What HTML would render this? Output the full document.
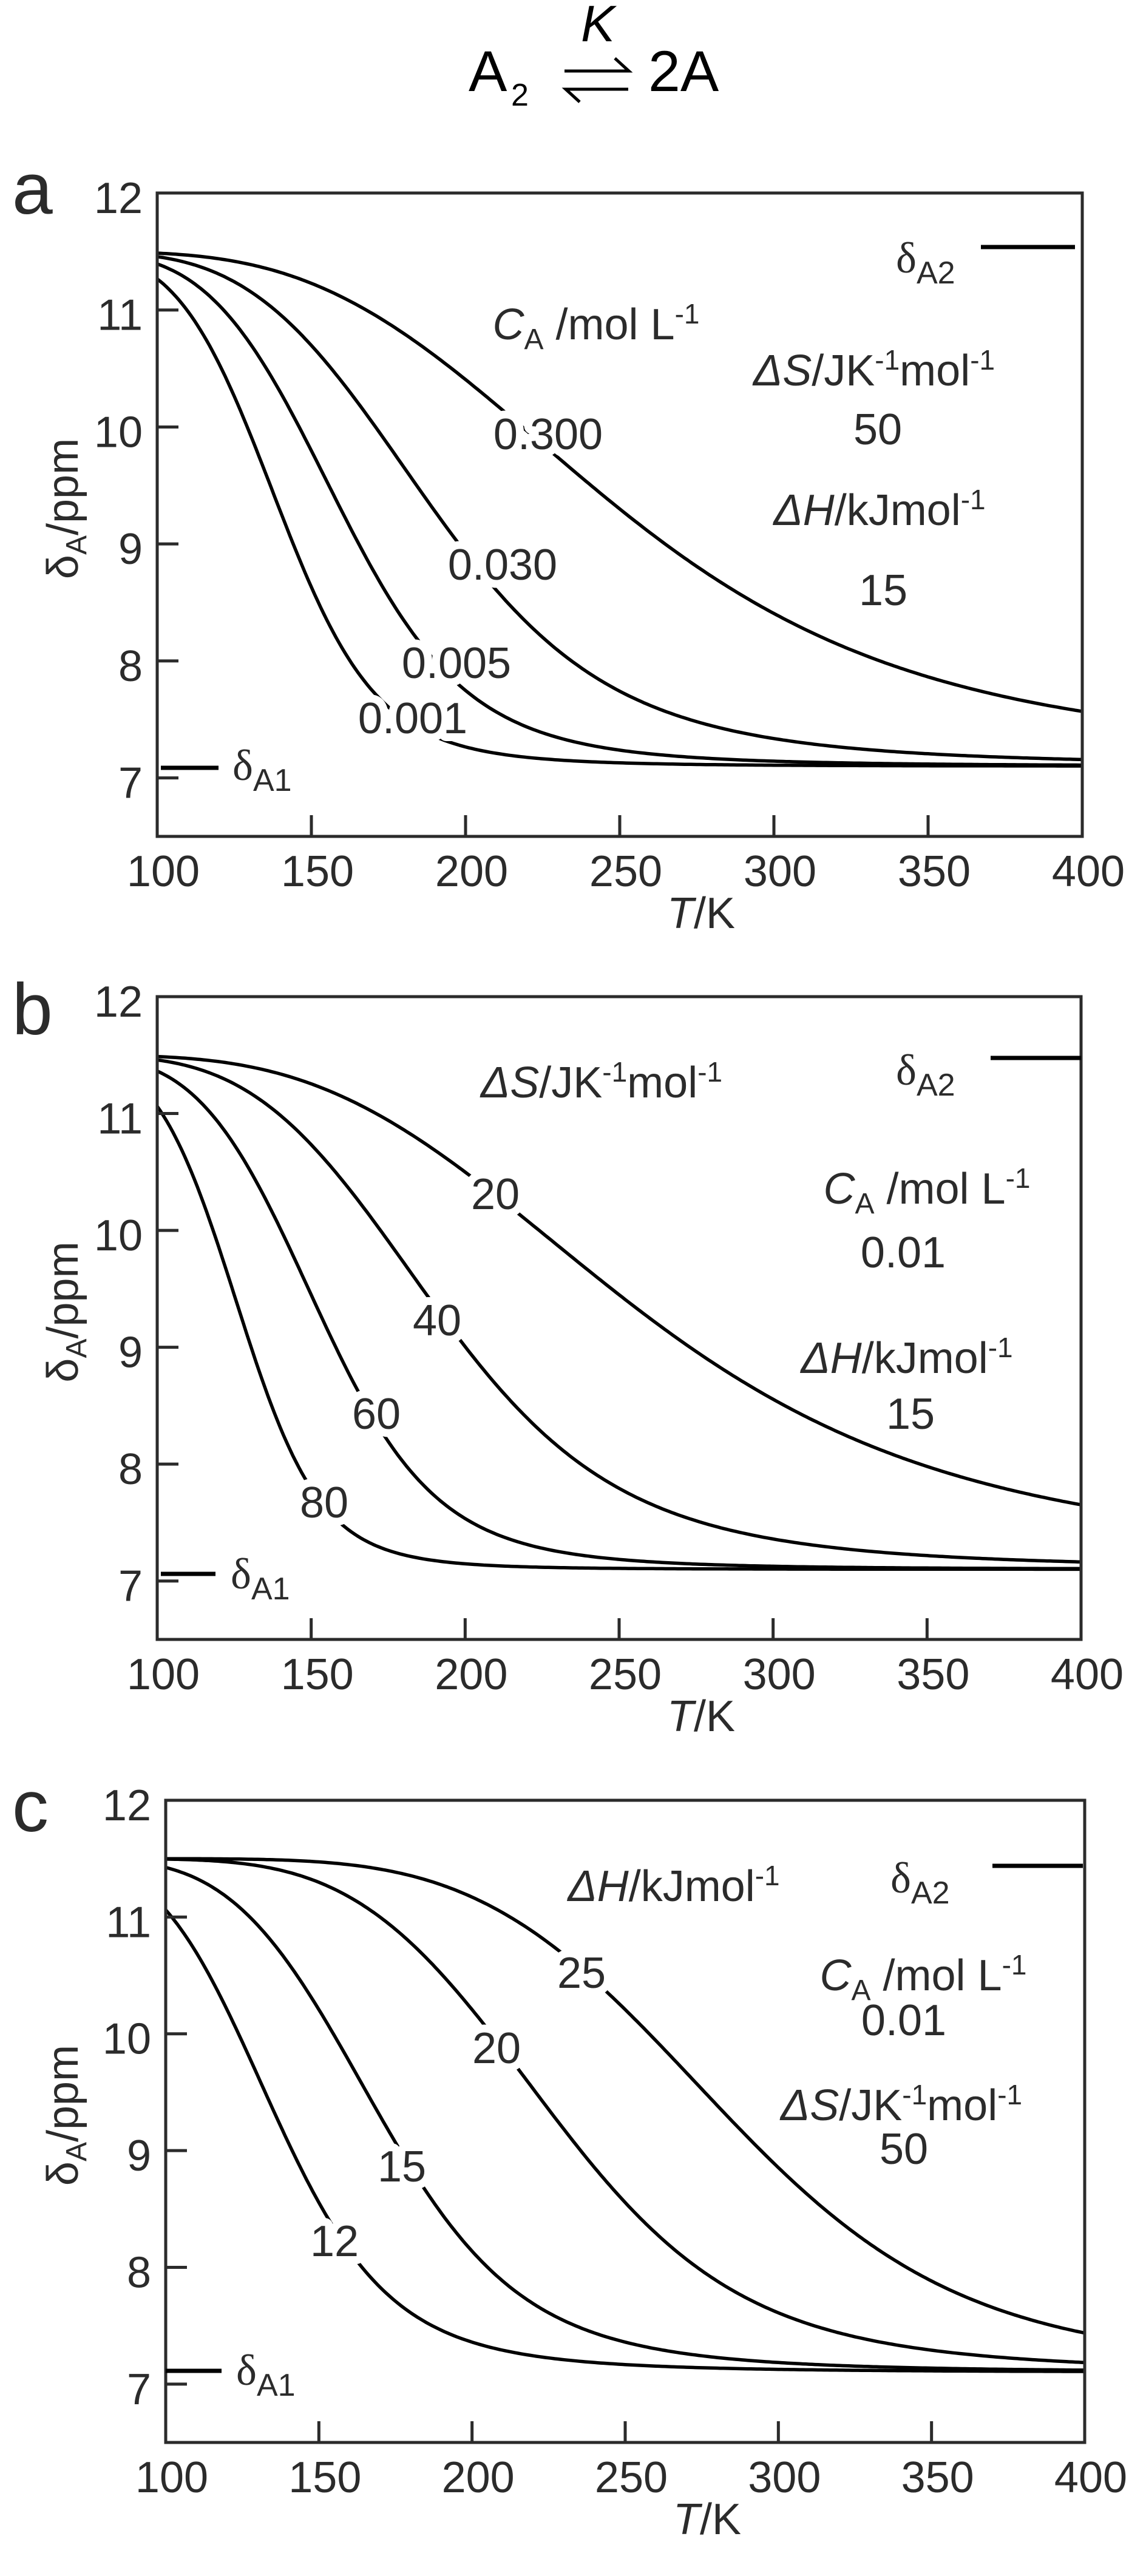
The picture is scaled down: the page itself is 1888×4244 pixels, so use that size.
<!DOCTYPE html>
<html><head><meta charset="utf-8"><style>
html,body{margin:0;padding:0;background:#fff;}
svg{display:block;}
text{font-family:"Liberation Sans",Arial,sans-serif;fill:#2b2b2b;}
.t{font-size:72px;}
.lab{font-size:72px;stroke:#fff;stroke-width:26px;paint-order:stroke;stroke-linejoin:round;}
</style></head><body>
<svg id="s" xmlns="http://www.w3.org/2000/svg" width="1888" height="4244" viewBox="0 0 1888 4244">
<rect width="1888" height="4244" fill="#fff"/>
<!-- title -->
<text x="985" y="68" text-anchor="middle" font-style="italic" style="font-size:84px;fill:#000">K</text>
<text x="772" y="150" style="font-size:95px;fill:#000">A</text>
<text x="842" y="174" style="font-size:52px;fill:#000">2</text>
<text x="1068" y="150" style="font-size:95px;fill:#000">2A</text>
<g stroke="#000" stroke-width="5" fill="none">
<path d="M930 117 H1036 L1013 96"/>
<path d="M1035 147 H932 L955 168"/>
</g>
<g id="panels"></g>
</svg>
<script>
(function(){
var NS="http://www.w3.org/2000/svg";
var root=document.getElementById("panels");
function el(tag,attrs,txt){var e=document.createElementNS(NS,tag);for(var k in attrs)e.setAttribute(k,attrs[k]);if(txt!==undefined)e.textContent=txt;root.appendChild(e);return e;}
function html(s){var g=document.createElementNS(NS,"g");g.innerHTML=s;root.appendChild(g);}
var R=8.314,dA1=7.1,dA2=11.5;
function delta(T,C,dH,dS){var K=Math.exp(-dH*1000/(R*T)+dS/R);var a=2*C;var al=(-K+Math.sqrt(K*K+4*a*K))/(2*a);return al*dA1+(1-al)*dA2;}
function panel(p){
 var L=p.L,Rr=p.R,top=p.top,bot=p.bot,u=(bot-top)/5.5,y7=bot-0.5*u;
 function X(T){return L+(T-100)/300*(Rr-L);}
 function Y(d){return y7-(d-7)*u;}
 p.curves.forEach(function(c){var d="";for(var T=100;T<=400;T+=1){d+=(T==100?"M":"L")+X(T).toFixed(1)+" "+Y(delta(T,c[0],c[1],c[2])).toFixed(1);}
  el("path",{d:d,fill:"none",stroke:"#000","stroke-width":"5.5","stroke-linejoin":"round"});});
 el("rect",{x:L,y:top,width:Rr-L,height:bot-top,fill:"none",stroke:"#2b2b2b","stroke-width":"5"});
 for(var T=150;T<400;T+=50)el("line",{x1:X(T),x2:X(T),y1:bot,y2:bot-35,stroke:"#2b2b2b","stroke-width":"5"});
 for(var v=7;v<=11;v++)el("line",{x1:L,x2:L+35,y1:Y(v),y2:Y(v),stroke:"#2b2b2b","stroke-width":"5"});
 for(var T=100;T<=400;T+=50)el("text",{"class":"t",x:X(T)+10,y:bot+82,"text-anchor":"middle"},String(T));
 for(var v=7;v<=12;v++)el("text",{"class":"t",x:L-24,y:Y(v)+33,"text-anchor":"end"},String(v));
 html('<text class="t" x="'+p.tk+'" y="'+(bot+151)+'" text-anchor="middle"><tspan font-style="italic">T</tspan>/K</text>');
 var cy=(top+bot)/2-10;
 html('<text class="t" transform="translate(128,'+cy+') rotate(-90)" text-anchor="middle">δ<tspan dy="14" style="font-size:48px">A</tspan><tspan dy="-14">/ppm</tspan></text>');
 el("text",{x:20,y:p.lettery,style:"font-size:120px"},p.letter);
 el("line",{x1:p.a2[0],x2:p.a2[1],y1:p.a2[2],y2:p.a2[2],stroke:"#000","stroke-width":"7"});
 el("line",{x1:p.a1[0],x2:p.a1[1],y1:p.a1[2],y2:p.a1[2],stroke:"#000","stroke-width":"7"});
 html('<text class="t" x="'+p.a2t[0]+'" y="'+p.a2t[1]+'" style="font-family:\'Liberation Serif\',serif">δ<tspan dy="18" style="font-family:\'Liberation Sans\',sans-serif;font-size:52px">A2</tspan></text>');
 html('<text class="t" x="'+p.a1t[0]+'" y="'+p.a1t[1]+'" style="font-family:\'Liberation Serif\',serif">δ<tspan dy="18" style="font-family:\'Liberation Sans\',sans-serif;font-size:52px">A1</tspan></text>');
 p.labels.forEach(function(l){el("text",{"class":"lab",x:l[0],y:l[1],"text-anchor":"middle"},l[2]);});
 p.notes.forEach(function(n){html('<text class="t" x="'+n[0]+'" y="'+n[1]+'" text-anchor="middle">'+n[2]+'</text>');});
}
var CA='<tspan font-style="italic">C</tspan><tspan dy="16" style="font-size:48px">A</tspan><tspan dy="-16"> /mol L</tspan><tspan dy="-26" style="font-size:46px">-1</tspan>';
var DS='<tspan font-style="italic">ΔS</tspan>/JK<tspan dy="-26" style="font-size:46px">-1</tspan><tspan dy="26">mol</tspan><tspan dy="-26" style="font-size:46px">-1</tspan>';
var DH='<tspan font-style="italic">ΔH</tspan>/kJmol<tspan dy="-26" style="font-size:46px">-1</tspan>';
panel({L:259,R:1783,top:318,bot:1378,tk:1155,letter:"a",lettery:352,
 curves:[[0.3,15,50],[0.03,15,50],[0.005,15,50],[0.001,15,50]],
 a2:[1616,1771,407],a1:[265,360,1265],a2t:[1476,449],a1t:[383,1285],
 labels:[[903,740,"0.300"],[828,955,"0.030"],[752,1117,"0.005"],[680,1208,"0.001"]],
 notes:[[982,559,CA],[1440,635,DS],[1446,732,"50"],[1449,865,DH],[1455,997,"15"]]});
panel({L:259,R:1781,top:1642,bot:2701,tk:1155,letter:"b",lettery:1704,
 curves:[[0.01,15,20],[0.01,15,40],[0.01,15,60],[0.01,15,80]],
 a2:[1632,1781,1743],a1:[265,355,2593],a2t:[1476,1787],a1t:[380,2617],
 labels:[[816,1992,"20"],[720,2200,"40"],[620,2354,"60"],[534,2500,"80"]],
 notes:[[991,1808,DS],[1527,1983,CA],[1488,2088,"0.01"],[1494,2262,DH],[1500,2354,"15"]]});
panel({L:273,R:1787,top:2966,bot:4024,tk:1165,letter:"c",lettery:3017,
 curves:[[0.01,25,50],[0.01,20,50],[0.01,15,50],[0.01,12,50]],
 a2:[1635,1784,3074],a1:[273,365,3906],a2t:[1467,3118],a1t:[389,3929],
 labels:[[958,3275,"25"],[818,3399,"20"],[662,3594,"15"],[551,3717,"12"]],
 notes:[[1110,3132,DH],[1521,3279,CA],[1489,3353,"0.01"],[1485,3493,DS],[1489,3565,"50"]]});
})();
</script>
</body></html>
